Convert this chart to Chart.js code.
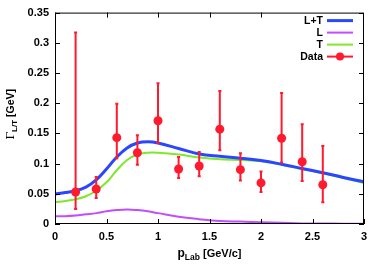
<!DOCTYPE html>
<html>
<head>
<meta charset="utf-8">
<script src="https://cdn.jsdelivr.net/npm/chart.js@4.4.1/dist/chart.umd.min.js"></script>
<style>
    html, body { margin: 0; padding: 0; background: #fff; }
</style>
</head>
<body>
<canvas id="graphe" width="381" height="275"></canvas>
<script>
// courbes theoriques
const xCourbe = [0, 0.1, 0.2, 0.3, 0.4, 0.5, 0.6, 0.7, 0.8, 0.9, 1.0, 1.2, 1.4, 1.6, 1.8, 2.0, 2.2, 2.4, 2.6, 2.8, 3.0];
const gammaLT = [0.050, 0.052, 0.055, 0.061, 0.073, 0.091, 0.111, 0.126, 0.134, 0.136, 0.134, 0.125, 0.116, 0.112, 0.109, 0.105, 0.099, 0.092, 0.085, 0.077, 0.070];
const gammaL = [0.013, 0.013, 0.014, 0.016, 0.018, 0.021, 0.023, 0.024, 0.023, 0.021, 0.018, 0.012, 0.008, 0.005, 0.004, 0.003, 0.002, 0.001, 0.001, 0.0005, 0.0003];
const gammaT = [0.036, 0.038, 0.041, 0.046, 0.055, 0.069, 0.089, 0.106, 0.115, 0.118, 0.118, 0.115, 0.110, 0.107, 0.106, 0.104, 0.098, 0.091, 0.084, 0.076, 0.068];

// points experimentaux
const pLab = [0.2, 0.4, 0.6, 0.8, 1.0, 1.2, 1.4, 1.6, 1.8, 2.0, 2.2, 2.4, 2.6];
const mesures = [0.053, 0.058, 0.143, 0.118, 0.171, 0.091, 0.096, 0.157, 0.090, 0.068, 0.142, 0.103, 0.065];
const erreurBas = [0.025, 0.043, 0.109, 0.098, 0.134, 0.076, 0.079, 0.122, 0.072, 0.053, 0.102, 0.071, 0.036];
const erreurHaut = [0.317, 0.078, 0.199, 0.147, 0.233, 0.111, 0.119, 0.220, 0.117, 0.087, 0.217, 0.165, 0.129];

const ticksX = [0, 0.5, 1, 1.5, 2, 2.5, 3];
const ticksY = [0, 0.05, 0.1, 0.15, 0.2, 0.25, 0.3, 0.35];

const ROUGE = "#ff1a2e";
const BLEU = "#2a46ff";
const VIOLET = "#c24dff";
const VERT = "#7fe82a";
const POLICE = "'Liberation Sans', Arial, sans-serif";

const enPoints = (xs, ys) => xs.map((x, i) => ({ x: x, y: ys[i] }));
const formatTick = v => String(Number(v.toFixed(2)));

const legende = [
    { label: "L+T", couleur: BLEU, largeur: 3 },
    { label: "L", couleur: VIOLET, largeur: 2 },
    { label: "T", couleur: VERT, largeur: 2 },
    { label: "Data", couleur: ROUGE, largeur: 2, point: true }
];

const pluginErreurs = {
    id: "barresErreur",
    beforeDatasetDraw(chart, args) {
        if (args.index !== 3) return;
        const { ctx, scales } = chart;
        ctx.save();
        ctx.strokeStyle = ROUGE;
        ctx.lineWidth = 2;
        pLab.forEach((p, i) => {
            const x = scales.x.getPixelForValue(p);
            const y1 = scales.y.getPixelForValue(erreurBas[i]);
            const y2 = scales.y.getPixelForValue(erreurHaut[i]);
            ctx.beginPath();
            ctx.moveTo(x, y1);
            ctx.lineTo(x, y2);
            ctx.moveTo(x - 1.5, y1);
            ctx.lineTo(x + 1.5, y1);
            ctx.moveTo(x - 1.5, y2);
            ctx.lineTo(x + 1.5, y2);
            ctx.stroke();
        });
        ctx.restore();
    }
};

const pluginCadre = {
    id: "cadre",
    afterDatasetsDraw(chart) {
        const { ctx, chartArea: a, scales } = chart;
        ctx.save();
        ctx.strokeStyle = "#000";
        ctx.lineWidth = 1;
        ctx.strokeRect(a.left + 0.5, a.top + 0.5, a.right - a.left - 1, a.bottom - a.top - 1);

        // graduations vers l'interieur (pas en haut sous la legende)
        ctx.beginPath();
        ticksX.forEach(v => {
            const x = Math.round(scales.x.getPixelForValue(v)) + 0.5;
            ctx.moveTo(x, a.bottom);
            ctx.lineTo(x, a.bottom - 5);
            if (v < 2.5) {
                ctx.moveTo(x, a.top);
                ctx.lineTo(x, a.top + 5);
            }
        });
        ticksY.forEach(v => {
            const y = Math.round(scales.y.getPixelForValue(v)) + 0.5;
            ctx.moveTo(a.left, y);
            ctx.lineTo(a.left + 5, y);
            ctx.moveTo(a.right, y);
            ctx.lineTo(a.right - 5, y);
        });
        ctx.stroke();

        // legende
        ctx.font = "bold 10.5px " + POLICE;
        ctx.textAlign = "right";
        ctx.textBaseline = "middle";
        legende.forEach((item, i) => {
            const y = a.top + 8 + i * 12;
            ctx.fillStyle = "#000";
            ctx.fillText(item.label, a.right - 41, y + 0.5);
            ctx.strokeStyle = item.couleur;
            ctx.lineWidth = item.largeur;
            ctx.beginPath();
            ctx.moveTo(a.right - 37, y);
            ctx.lineTo(a.right - 11, y);
            ctx.stroke();
            if (item.point) {
                ctx.fillStyle = item.couleur;
                ctx.beginPath();
                ctx.arc(a.right - 24, y, 4, 0, Math.PI * 2);
                ctx.fill();
            }
        });

        // titres des axes avec indices
        ctx.fillStyle = "#000";
        ctx.textAlign = "left";
        ctx.textBaseline = "alphabetic";
        const morceauxX = [
            { t: "p", f: "bold 12px " + POLICE, dy: 0 },
            { t: "Lab", f: "bold 8.5px " + POLICE, dy: 3 },
            { t: " [GeV/c]", f: "bold 11px " + POLICE, dy: 0 }
        ];
        let total = 0;
        morceauxX.forEach(m => { ctx.font = m.f; total += ctx.measureText(m.t).width; });
        let cx = (a.left + a.right) / 2 - total / 2;
        morceauxX.forEach(m => {
            ctx.font = m.f;
            ctx.fillText(m.t, cx, 257 + m.dy);
            cx += ctx.measureText(m.t).width;
        });

        const morceauxY = [
            { t: "Γ", f: "11px 'DejaVu Serif', serif", dy: 0 },
            { t: "L/T", f: "bold 8px " + POLICE, dy: 3 },
            { t: " [GeV]", f: "bold 10.5px " + POLICE, dy: 0 }
        ];
        total = 0;
        morceauxY.forEach(m => { ctx.font = m.f; total += ctx.measureText(m.t).width; });
        ctx.translate(14, (a.top + a.bottom) / 2 - 4);
        ctx.rotate(-Math.PI / 2);
        cx = -total / 2;
        morceauxY.forEach(m => {
            ctx.font = m.f;
            ctx.fillText(m.t, cx, m.dy);
            cx += ctx.measureText(m.t).width;
        });
        ctx.restore();
    }
};

const courbe = (label, ys, couleur, largeur, ordre) => ({
    label: label,
    data: enPoints(xCourbe, ys),
    borderColor: couleur,
    backgroundColor: couleur,
    borderWidth: largeur,
    pointRadius: 0,
    tension: 0.4,
    fill: false,
    order: ordre
});

new Chart(document.getElementById("graphe"), {
    type: "line",
    data: {
        datasets: [
            courbe("L+T", gammaLT, BLEU, 3, 2),
            courbe("L", gammaL, VIOLET, 2, 4),
            courbe("T", gammaT, VERT, 2, 3),
            {
                label: "Data",
                data: enPoints(pLab, mesures),
                showLine: false,
                pointRadius: 4.5,
                pointBackgroundColor: ROUGE,
                pointBorderColor: ROUGE,
                pointBorderWidth: 0,
                order: 1
            }
        ]
    },
    options: {
        responsive: false,
        animation: false,
        devicePixelRatio: 1,
        layout: { padding: { top: 11, right: 17, left: 0, bottom: 0 } },
        plugins: {
            legend: { display: false },
            tooltip: { enabled: false }
        },
        scales: {
            x: {
                type: "linear",
                min: 0,
                max: 3,
                afterFit: s => { s.height = 51; },
                afterBuildTicks: s => { s.ticks = ticksX.map(v => ({ value: v })); },
                grid: { display: false, drawTicks: false },
                border: { display: false },
                ticks: {
                    color: "#000",
                    padding: 6,
                    maxRotation: 0,
                    callback: formatTick,
                    font: { family: POLICE, size: 11, weight: "bold" }
                }
            },
            y: {
                min: 0,
                max: 0.35,
                afterFit: s => { s.width = 55; },
                afterBuildTicks: s => { s.ticks = ticksY.map(v => ({ value: v })); },
                grid: { display: false, drawTicks: false },
                border: { display: false },
                ticks: {
                    color: "#000",
                    padding: 6,
                    callback: formatTick,
                    font: { family: POLICE, size: 11, weight: "bold" }
                }
            }
        }
    },
    plugins: [pluginErreurs, pluginCadre]
});
</script>
</body>
</html>
